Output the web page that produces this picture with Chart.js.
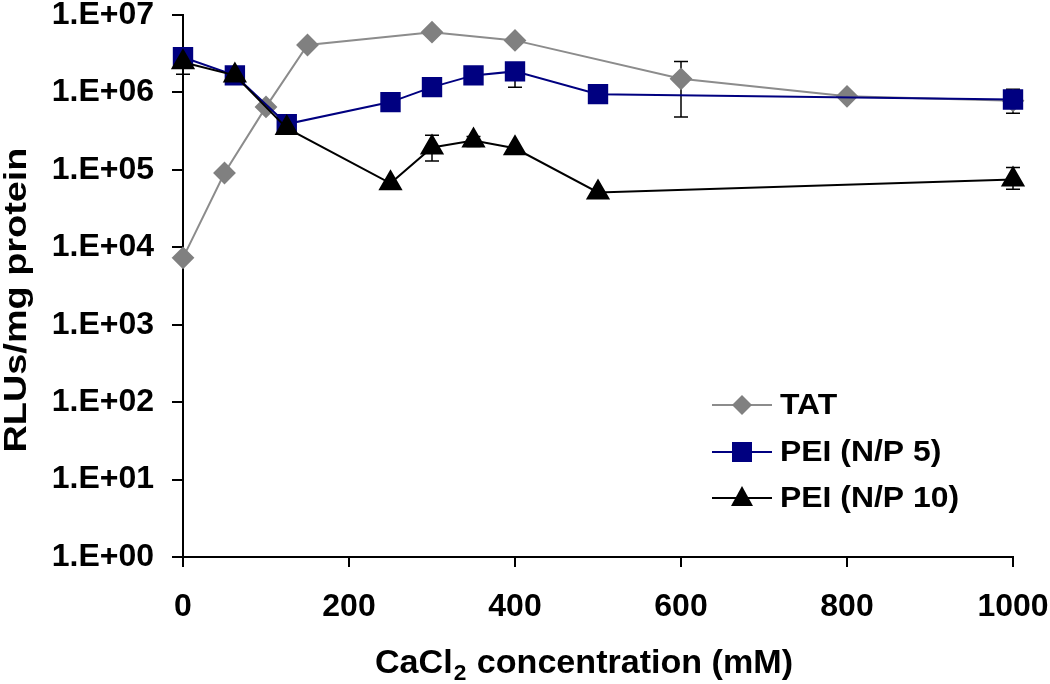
<!DOCTYPE html>
<html>
<head>
<meta charset="utf-8">
<title>RLUs vs CaCl2 concentration</title>
<style>
  html, body { margin: 0; padding: 0; background: #fff; overflow: hidden; }
  canvas { display: block; }
</style>
<script src="https://cdn.jsdelivr.net/npm/chart.js"></script>
</head>
<body>
<canvas id="chart" width="1050" height="684"></canvas>
<script>
// x values (mM CaCl2)
const concTAT = [0, 50, 100, 150, 300, 400, 600, 800, 1000];
const concPEI = [0, 62.5, 125, 250, 300, 350, 400, 500, 1000];

// RLUs/mg protein
const rluTAT = [7.3e3, 9.1e4, 6.5e5, 4.1e6, 6.0e6, 4.7e6, 1.5e6, 8.9e5, 7.8e5];
const rluPEI5 = [2.85e6, 1.66e6, 3.9e5, 7.5e5, 1.17e6, 1.66e6, 1.87e6, 9.5e5, 8.1e5];
const rluPEI10 = [2.46e6, 1.66e6, 3.46e5, 6.7e4, 1.95e5, 2.4e5, 1.9e5, 5.1e4, 7.5e4];

// error bars [low, high], null where none is visible
const errTAT = [null, null, null, null, null, null, [4.8e5, 2.5e6], null, null];
const errPEI5 = [null, null, null, null, null, null, [1.17e6, 2.4e6], null, [5.4e5, 1.1e6]];
const errPEI10 = [[1.72e6, 3.3e6], null, null, null, [1.3e5, 2.8e5], [2.0e5, 2.7e5], null, null, [5.6e4, 1.07e5]];

const seriesNames = ['TAT', 'PEI (N/P 5)', 'PEI (N/P 10)'];
const yTicks = [1, 1e1, 1e2, 1e3, 1e4, 1e5, 1e6, 1e7];
const xTitle = ['CaCl', '2', ' concentration (mM)'];
const yTitle = 'RLUs/mg protein';

const FONT = '"Liberation Sans", Arial, sans-serif';

function toPoints(xs, ys) {
  return xs.map((x, i) => ({ x: x, y: ys[i] }));
}

// error bars go under the markers
const errorBars = {
  id: 'errorBars',
  beforeDatasetsDraw(chart) {
    const ctx = chart.ctx;
    const xs = chart.scales.x, ys = chart.scales.y;
    ctx.save();
    ctx.strokeStyle = '#000';
    ctx.lineWidth = 1.5;
    chart.data.datasets.forEach(ds => {
      (ds.errors || []).forEach((e, i) => {
        if (!e) return;
        const px = xs.getPixelForValue(ds.data[i].x);
        const lo = ys.getPixelForValue(e[0]);
        const hi = ys.getPixelForValue(e[1]);
        ctx.beginPath();
        ctx.moveTo(px, lo); ctx.lineTo(px, hi);
        ctx.moveTo(px - 7, lo); ctx.lineTo(px + 7, lo);
        ctx.moveTo(px - 7, hi); ctx.lineTo(px + 7, hi);
        ctx.stroke();
      });
    });
    ctx.restore();
  }
};

function marker(ctx, style, x, y, color) {
  ctx.fillStyle = color;
  ctx.beginPath();
  if (style === 'rectRot') {
    ctx.moveTo(x - 10, y); ctx.lineTo(x, y - 10); ctx.lineTo(x + 10, y); ctx.lineTo(x, y + 10);
  } else if (style === 'rect') {
    ctx.rect(x - 10, y - 10, 20, 20);
  } else {
    ctx.moveTo(x, y - 12); ctx.lineTo(x + 11, y + 8); ctx.lineTo(x - 11, y + 8);
  }
  ctx.closePath();
  ctx.fill();
}

// titles and the legend inside the plot
const decorations = {
  id: 'decorations',
  afterDraw(chart) {
    const ctx = chart.ctx;
    ctx.save();
    ctx.fillStyle = '#000';

    // y title, rotated
    ctx.font = 'bold 31px ' + FONT;
    const yw = ctx.measureText(yTitle).width;
    ctx.translate(26, 300);
    ctx.rotate(-Math.PI / 2);
    ctx.scale(305 / yw, 1);
    ctx.textAlign = 'center';
    ctx.textBaseline = 'alphabetic';
    ctx.fillText(yTitle, 0, 0);
    ctx.setTransform(1, 0, 0, 1, 0, 0);

    // x title with subscript 2
    const big = 'bold 33px ' + FONT, small = 'bold 22px ' + FONT;
    ctx.font = big; const w1 = ctx.measureText(xTitle[0]).width;
    ctx.font = small; const w2 = ctx.measureText(xTitle[1]).width + 2;
    ctx.font = big; const w3 = ctx.measureText(xTitle[2]).width;
    const sx = 418 / (w1 + w2 + w3);
    ctx.translate(375, 673);
    ctx.scale(sx, 1);
    ctx.textAlign = 'left';
    ctx.font = big; ctx.fillText(xTitle[0], 0, 0);
    ctx.font = small; ctx.fillText(xTitle[1], w1 + 1, 7);
    ctx.font = big; ctx.fillText(xTitle[2], w1 + w2, 0);
    ctx.setTransform(1, 0, 0, 1, 0, 0);

    // legend
    const rowY = [405, 452, 498];
    chart.data.datasets.slice().sort((a, b) => b.order - a.order).forEach((ds, i) => {
      const y = rowY[i];
      ctx.strokeStyle = ds.borderColor;
      ctx.lineWidth = 2;
      ctx.beginPath(); ctx.moveTo(712, y); ctx.lineTo(772, y); ctx.stroke();
      marker(ctx, ds.pointStyle, 742, y, ds.pointBackgroundColor);
      ctx.fillStyle = '#000';
      ctx.font = 'bold 29px ' + FONT;
      ctx.textAlign = 'left';
      ctx.textBaseline = 'middle';
      ctx.save();
      ctx.translate(780, y + 1);
      ctx.scale(1.1, 1);
      ctx.fillText(ds.label, 0, 0);
      ctx.restore();
    });
    ctx.restore();
  }
};

const ctx = document.getElementById('chart').getContext('2d');
const chart = new Chart(ctx, {
  type: 'line',
  data: {
    datasets: [
      {
        label: seriesNames[0],
        data: toPoints(concTAT, rluTAT),
        errors: errTAT,
        borderColor: '#8c8c8c',
        borderWidth: 2,
        pointStyle: 'rectRot',
        pointRadius: 10,
        pointBackgroundColor: '#808080',
        pointBorderColor: '#808080',
        order: 3,
        clip: false
      },
      {
        label: seriesNames[1],
        data: toPoints(concPEI, rluPEI5),
        errors: errPEI5,
        borderColor: '#000080',
        borderWidth: 2,
        pointStyle: 'rect',
        pointRadius: 13,
        pointBackgroundColor: '#000080',
        pointBorderColor: '#000080',
        order: 2,
        clip: false
      },
      {
        label: seriesNames[2],
        data: toPoints(concPEI, rluPEI10),
        errors: errPEI10,
        borderColor: '#000000',
        borderWidth: 2,
        pointStyle: 'triangle',
        pointRadius: 12,
        pointBackgroundColor: '#000000',
        pointBorderColor: '#000000',
        order: 1,
        clip: false
      }
    ]
  },
  options: {
    responsive: false,
    animation: false,
    devicePixelRatio: 1,
    layout: { padding: { top: 15, right: 37, left: 0, bottom: 0 } },
    plugins: {
      legend: { display: false },
      tooltip: { enabled: false }
    },
    scales: {
      x: {
        type: 'linear',
        min: 0,
        max: 1000,
        ticks: {
          stepSize: 200,
          color: '#000',
          font: { family: FONT, size: 32, weight: 'bold' },
          padding: 21,
          callback: v => String(v)
        },
        grid: { drawOnChartArea: false, color: '#000', lineWidth: 2, tickLength: 10 },
        border: { color: '#000', width: 2 },
        afterFit(scale) {
          scale.height = 127;
          scale.paddingLeft = 0;
          scale.paddingRight = 0;
        }
      },
      y: {
        type: 'logarithmic',
        min: 1,
        max: 1e7,
        afterBuildTicks(scale) {
          scale.ticks = yTicks.map(v => ({ value: v }));
        },
        ticks: {
          color: '#000',
          font: { family: FONT, size: 32, weight: 'bold' },
          padding: 18,
          callback: v => '1.E+' + String(Math.round(Math.log10(v))).padStart(2, '0')
        },
        grid: { drawOnChartArea: false, color: '#000', lineWidth: 2, tickLength: 11 },
        border: { color: '#000', width: 2 },
        afterFit(scale) {
          scale.width = 183;
          scale.paddingTop = 0;
          scale.paddingBottom = 0;
        }
      }
    }
  },
  plugins: [errorBars, decorations]
});
</script>
</body>
</html>
